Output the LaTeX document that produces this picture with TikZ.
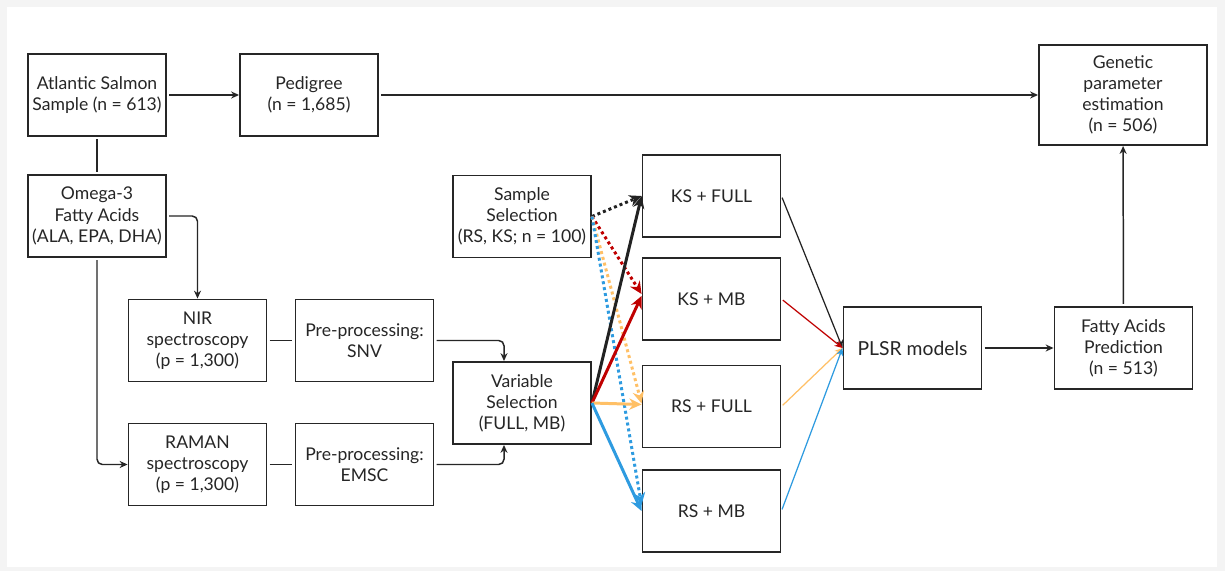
\documentclass[tikz,border=0pt]{standalone}
\usepackage{fontspec}
\setmainfont{Lato}
\usetikzlibrary{arrows.meta}
\definecolor{framegray}{HTML}{F4F4F4}
\definecolor{ink}{HTML}{262626}
\definecolor{ksfullc}{HTML}{222222}
\definecolor{ksmbc}{HTML}{C00000}
\definecolor{rsfullc}{HTML}{FFC066}
\definecolor{rsmbc}{HTML}{2E9BE0}
\tikzset{
  box/.style={draw=ink, line width=1.1pt, minimum width=2.76cm, minimum height=1.64cm,
    align=center, inner sep=0pt, text=ink, font=\fontsize{10}{12}\selectfont},
  flow/.style={draw=ink, line width=0.85pt, -{Stealth[length=4.5pt,width=4pt]}, shorten <=1.2pt},
  link/.style={draw=ink, line width=0.85pt, shorten <=1.2pt, shorten >=1.2pt},
  picked/.style={line width=1.7pt, -{Stealth[length=7pt,width=6.5pt]}},
  dotpicked/.style={picked, dash pattern=on 1.7pt off 1.7pt},
  feed/.style={line width=0.7pt, -{Stealth[length=4.5pt,width=4pt]}, shorten <=1pt}
}
\begin{document}
\begin{tikzpicture}[x=0.02cm,y=-0.02cm]
\useasboundingbox[fill=framegray] (0,0) rectangle (1225,571);
\fill[white] (7,7) rectangle (1217,567);

\node[box] (salmon) at (97,95) {Atlantic Salmon\\Sample (n = 613)};
\node[box] (pedigree) at (309,95) {Pedigree\\(n = 1,685)};
\node[box, minimum width=3.36cm, minimum height=2cm] (genetic) at (1123,95) {Genetic\\parameter\\estimation\\(n = 506)};
\node[box] (omega) at (97,216) {Omega-3\\Fatty Acids\\(ALA, EPA, DHA)};
\node[box] (nir) at (197.5,340.5) {NIR\\spectroscopy\\(p = 1,300)};
\node[box] (snv) at (364.5,340.5) {Pre-processing:\\SNV};
\node[box] (raman) at (197.5,464.5) {RAMAN\\spectroscopy\\(p = 1,300)};
\node[box] (emsc) at (364.5,464.5) {Pre-processing:\\EMSC};
\node[box] (sample) at (522,216.5) {Sample\\Selection\\(RS, KS; n = 100)};
\node[box] (varsel) at (522,403) {Variable\\Selection\\(FULL, MB)};
\node[box] (ksfull) at (711.5,196) {KS + FULL};
\node[box] (ksmb) at (711.5,299) {KS + MB};
\node[box] (rsfull) at (711.5,406.5) {RS + FULL};
\node[box] (rsmb) at (711.5,511) {RS + MB};
\node[box, font=\fontsize{11}{13}\selectfont] (plsr) at (912.5,348) {PLSR models};
\node[box] (fap) at (1123.5,348) {Fatty Acids\\Prediction\\(n = 513)};

\draw[flow] (salmon) -- (pedigree);
\draw[flow] (pedigree) -- (genetic);
\draw[link] (salmon) -- (omega);
\draw[flow, rounded corners=3pt] (omega.east) -| (nir.north);
\draw[flow, rounded corners=3pt] (omega.south) |- (raman.west);
\draw[link] (nir) -- (snv);
\draw[link] (raman) -- (emsc);
\draw[flow, rounded corners=3pt] (snv.east) -| ([xshift=-0.36cm]varsel.north);
\draw[flow, rounded corners=3pt] (emsc.east) -| ([xshift=-0.36cm]varsel.south);

\draw[dotpicked, ksfullc] (sample.east) -- (ksfull.west);
\draw[dotpicked, ksmbc] (sample.east) -- ([yshift=0.1cm]ksmb.west);
\draw[dotpicked, rsfullc] (sample.east) -- ([yshift=0.06cm]rsfull.west);
\draw[dotpicked, rsmbc] (sample.east) -- ([yshift=0.12cm]rsmb.west);
\draw[picked, ksfullc] (varsel.east) -- (ksfull.west);
\draw[picked, ksmbc] (varsel.east) -- ([yshift=0.06cm]ksmb.west);
\draw[picked, rsfullc] (varsel.east) -- ([yshift=0.04cm]rsfull.west);
\draw[picked, rsmbc] (varsel.east) -- (rsmb.west);

\draw[feed, ksfullc] (ksfull.east) -- (plsr.west);
\draw[feed, ksmbc] (ksmb.east) -- (plsr.west);
\draw[feed, rsfullc] (rsfull.east) -- (plsr.west);
\draw[feed, rsmbc] (rsmb.east) -- (plsr.west);
\draw[flow] (plsr) -- (fap);
\draw[flow] (fap) -- (genetic);
\end{tikzpicture}
\end{document}
